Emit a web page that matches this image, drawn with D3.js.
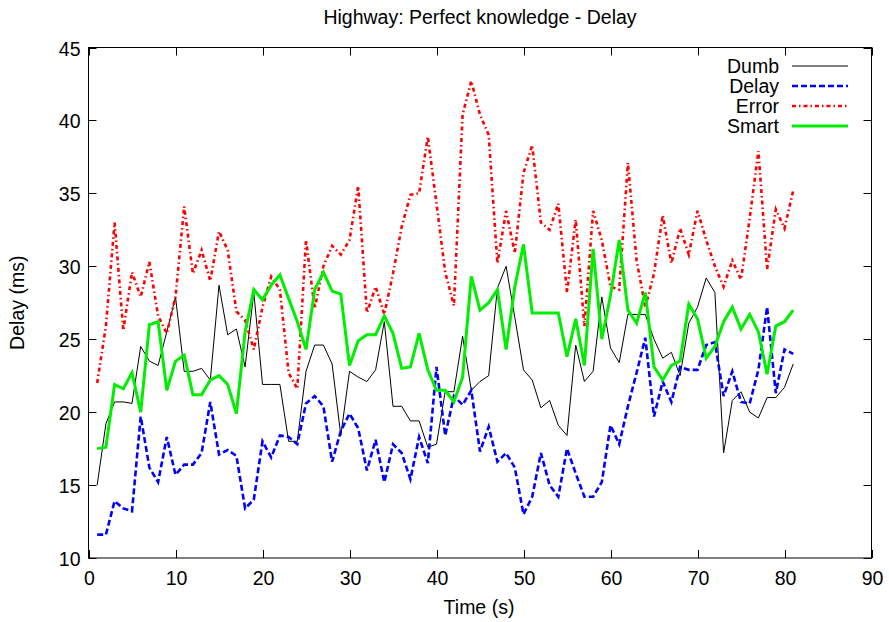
<!DOCTYPE html>
<html>
<head>
<meta charset="utf-8">
<script src="https://cdn.jsdelivr.net/npm/d3@7"></script>
<style>
  html, body { margin: 0; padding: 0; background: #fff; }
  svg text { font-family: "Liberation Sans", Arial, Helvetica, sans-serif; fill: #000; }
</style>
</head>
<body>
<svg id="chart" width="889" height="622"></svg>
<script>
// Simulation time (s)
const time = [1,2,3,4,5,6,7,8,9,10,11,12,13,14,15,16,17,18,19,20,
  21,22,23,24,25,26,27,28,29,30,31,32,33,34,35,36,37,38,39,40,
  41,42,43,44,45,46,47,48,49,50,51,52,53,54,55,56,57,58,59,60,
  61,62,63,64,65,66,67,68,69,70,71,72,73,74,75,76,77,78,79,80,81];

// Delay (ms) per strategy
const dumb = [15.0,19.2,20.7,20.7,20.6,24.5,23.5,23.2,25.5,27.9,
  22.8,22.8,23.0,22.2,28.7,25.3,25.7,23.1,28.2,21.9,
  21.9,21.9,18.0,18.0,22.8,24.6,24.6,23.3,18.4,22.8,
  22.4,22.1,22.9,26.2,20.4,20.4,19.4,19.4,17.6,17.8,
  21.4,21.4,25.2,21.5,22.1,22.5,28.5,30.0,26.5,22.9,
  22.2,20.3,20.8,19.1,18.4,24.6,22.1,22.8,27.9,24.4,
  23.4,26.7,26.7,26.7,25.0,23.7,24.1,22.5,26.1,27.2,
  29.2,28.2,17.2,20.8,21.4,20.0,19.6,21.0,21.0,21.7,23.3];

const delay = [11.6,11.6,13.9,13.4,13.2,19.7,16.2,15.2,18.3,15.7,
  16.4,16.4,17.2,20.7,17.1,17.4,17.0,13.4,14.0,18.0,
  16.9,18.4,18.3,17.8,20.6,21.1,20.4,16.6,18.7,19.9,
  18.9,16.0,18.1,15.2,17.8,17.2,15.4,18.3,16.5,23.1,
  18.4,21.1,20.5,21.5,17.3,19.0,16.6,17.2,16.2,13.0,
  14.2,17.2,15.0,14.2,17.5,15.8,14.2,14.2,15.2,19.1,
  17.8,20.4,22.7,25.1,19.7,22.1,20.7,23.1,22.9,22.9,
  24.6,24.8,21.1,22.8,20.7,20.6,22.9,27.2,21.3,24.3,24.0];

const error = [22.0,25.9,33.0,25.6,29.6,27.9,30.3,26.6,25.4,27.9,
  34.1,29.5,31.1,29.0,32.4,31.1,26.9,26.3,24.3,27.2,
  29.3,28.4,22.7,21.6,31.8,27.1,30.0,31.4,30.8,31.8,
  35.5,26.8,28.6,26.7,29.5,32.7,34.9,35.0,38.9,34.3,
  29.6,27.3,40.4,42.7,40.4,39.0,30.2,33.8,30.9,36.4,
  38.3,33.0,32.5,34.3,28.2,33.2,25.9,33.8,31.8,28.6,
  28.4,37.1,30.4,27.2,29.5,33.5,30.2,32.6,30.8,33.8,
  31.8,30.0,28.6,30.4,29.1,33.3,37.9,29.8,33.9,32.6,35.2];

const smart = [17.5,17.6,21.9,21.6,22.7,20.0,26.0,26.2,21.5,23.5,
  23.9,21.2,21.2,22.2,22.5,21.9,19.9,25.5,28.4,27.7,
  28.7,29.4,27.8,26.2,24.3,28.4,29.6,28.3,28.1,23.2,
  24.9,25.3,25.3,26.6,25.4,23.0,23.1,25.4,22.9,21.5,
  21.5,20.7,22.4,29.3,27.0,27.5,28.4,24.3,28.6,31.5,
  26.8,26.8,26.8,26.8,23.8,26.4,23.2,31.2,25.0,28.0,
  31.8,27.0,26.1,28.2,23.1,22.2,23.2,23.5,27.4,26.4,
  23.7,24.5,26.2,27.2,25.7,26.7,25.5,22.6,25.9,26.2,27.0];

const seriesNames = ["Dumb", "Delay", "Error", "Smart"];
const xTicks = [0,10,20,30,40,50,60,70,80,90];
const yTicks = [10,15,20,25,30,35,40,45];

const series = [
  { name: seriesNames[0], values: dumb,  color: "#000000", width: 1,   dash: null },
  { name: seriesNames[1], values: delay, color: "#0000ff", width: 2.6, dash: "6,3" },
  { name: seriesNames[2], values: error, color: "#ff0000", width: 2.6, dash: "4,3,1.5,3" },
  { name: seriesNames[3], values: smart, color: "#00ee00", width: 3,   dash: null }
];

const svg = d3.select("#chart");
const margin = { left: 88.5, right: 17.5, top: 47.5, bottom: 64 };
const W = 889, H = 622;
const x = d3.scaleLinear().domain([0, 90]).range([margin.left, W - margin.right]);
const y = d3.scaleLinear().domain([10, 45]).range([H - margin.bottom, margin.top]);

const fs = 19.5;
const tickLen = 8;

// Ticks on all four sides, pointing inwards
const g = svg.append("g");
xTicks.forEach(t => {
  const px = Math.round(x(t)) + 0.5;
  g.append("line").attr("x1", px).attr("x2", px)
    .attr("y1", y(10)).attr("y2", y(10) - tickLen).attr("stroke", "#000");
  g.append("line").attr("x1", px).attr("x2", px)
    .attr("y1", y(45)).attr("y2", y(45) + tickLen).attr("stroke", "#000");
  g.append("text").attr("x", px).attr("y", y(10) + 27)
    .attr("text-anchor", "middle").attr("font-size", fs).text(t);
});
yTicks.forEach(t => {
  const py = Math.round(y(t)) + 0.5;
  g.append("line").attr("x1", x(0)).attr("x2", x(0) + tickLen)
    .attr("y1", py).attr("y2", py).attr("stroke", "#000");
  g.append("line").attr("x1", x(90)).attr("x2", x(90) - tickLen)
    .attr("y1", py).attr("y2", py).attr("stroke", "#000");
  g.append("text").attr("x", x(0) - 8).attr("y", py + 7)
    .attr("text-anchor", "end").attr("font-size", fs).text(t);
});

// Plot frame
svg.append("rect")
  .attr("x", x(0)).attr("y", y(45))
  .attr("width", x(90) - x(0)).attr("height", y(10) - y(45))
  .attr("fill", "none").attr("stroke", "#000").attr("stroke-width", 1);

svg.append("defs").append("clipPath").attr("id", "plot-clip")
  .append("rect").attr("x", x(0)).attr("y", y(45))
  .attr("width", x(90) - x(0)).attr("height", y(10) - y(45));

const line = d3.line()
  .x((d, i) => x(time[i]))
  .y(d => y(d));

const lines = svg.append("g").attr("clip-path", "url(#plot-clip)");
series.forEach(s => {
  lines.append("path")
    .attr("d", line(s.values))
    .attr("fill", "none")
    .attr("stroke", s.color)
    .attr("stroke-width", s.width)
    .attr("stroke-dasharray", s.dash)
    .attr("stroke-linejoin", "miter");
});

// Legend
const legend = svg.append("g");
series.forEach((s, i) => {
  const ly = 66 + i * 20;
  legend.append("text").attr("x", 779).attr("y", ly + 7)
    .attr("text-anchor", "end").attr("font-size", fs).text(s.name);
  legend.append("line").attr("x1", 792).attr("x2", 848)
    .attr("y1", ly).attr("y2", ly)
    .attr("stroke", s.color).attr("stroke-width", s.width)
    .attr("stroke-dasharray", s.dash);
});

// Title and axis labels
svg.append("text").attr("x", 480).attr("y", 24)
  .attr("text-anchor", "middle").attr("font-size", fs)
  .text("Highway: Perfect knowledge - Delay");
svg.append("text").attr("x", 479).attr("y", 614)
  .attr("text-anchor", "middle").attr("font-size", fs)
  .text("Time (s)");
svg.append("text")
  .attr("transform", `translate(24, ${(y(10) + y(45)) / 2}) rotate(-90)`)
  .attr("text-anchor", "middle").attr("font-size", fs)
  .text("Delay (ms)");
</script>
</body>
</html>
